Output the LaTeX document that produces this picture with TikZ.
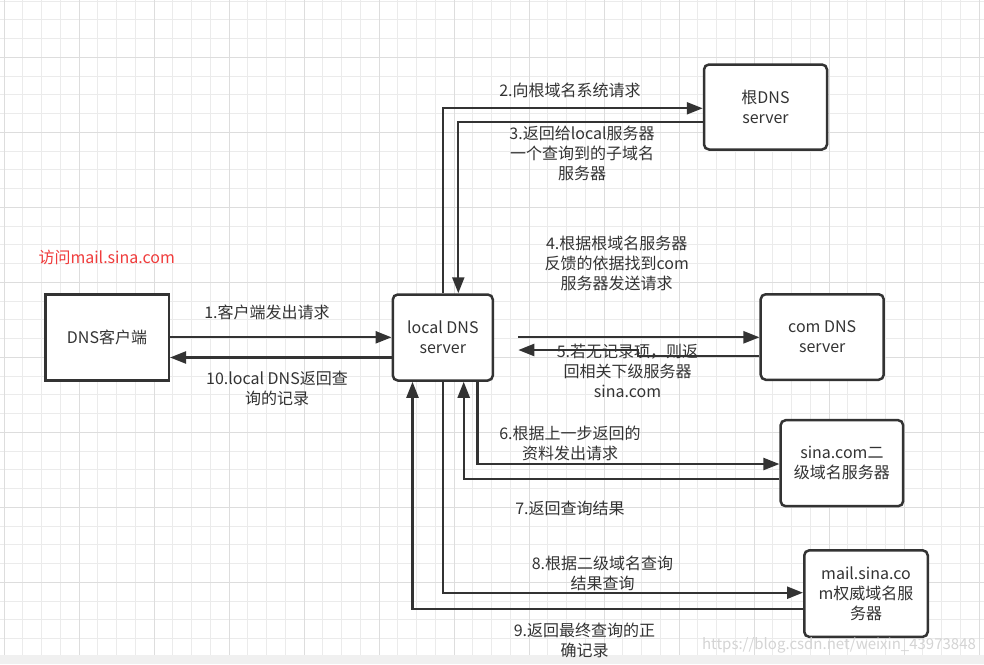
\documentclass[tikz,border=0pt]{standalone}
\usepackage{fontspec}
\setmainfont{Noto Sans CJK SC}
\usetikzlibrary{arrows.meta}
\definecolor{lc}{HTML}{333333}
\definecolor{gmin}{HTML}{EBEBEB}
\definecolor{gmaj}{HTML}{DDDDDD}
\definecolor{stripc}{HTML}{F0F0F0}
\definecolor{redt}{HTML}{F03C3C}
\definecolor{wm}{HTML}{D4D4D4}
\begin{document}
\begin{tikzpicture}[x=1pt,y=-1pt,
  box/.style={draw=lc, line width=2.5pt, rounded corners=5pt, fill=white, align=center, text=lc, font=\fontsize{16}{20}\selectfont, inner sep=0pt},
  lab/.style={align=center, text=lc, font=\fontsize{16}{20}\selectfont, inner sep=0pt},
  arr/.style={draw=lc, line width=2.3pt, -{Triangle[length=16pt,width=12pt]}},
  conn/.style={draw=lc, line width=2.3pt}]
\useasboundingbox (0,0) rectangle (984,664);
\fill[white] (0,0) rectangle (984,664);
\fill[stripc] (0,655) rectangle (984,664);
% grid
\foreach \i in {0,...,52} { \pgfmathsetmacro\xx{4+18.75*\i} \draw[gmin, line width=1pt] (\xx,0) -- (\xx,655); }
\foreach \j in {0,...,34} { \pgfmathsetmacro\yy{1.05+18.75*\j} \draw[gmin, line width=1pt] (0,\yy) -- (984,\yy); }
\foreach \i in {0,...,13} { \pgfmathsetmacro\xx{4+75*\i} \draw[gmaj, line width=1pt] (\xx,0) -- (\xx,655); }
\foreach \j in {0,...,7} { \pgfmathsetmacro\yy{57.3+75*\j} \draw[gmaj, line width=1pt] (0,\yy) -- (984,\yy); }

% boxes
\node[box, minimum width=123pt, minimum height=85pt] (root) at (765.5,107) {根DNS\\server};
\node[box, rounded corners=0pt, minimum width=123.5pt, minimum height=86pt] (client) at (107,337.5) {DNS客户端};
\node[box, minimum width=100pt, minimum height=86pt] (local) at (442.8,337.5) {local DNS\\server};
\node[box, minimum width=123pt, minimum height=85.5pt] (com) at (822.2,337) {com DNS\\server};
\node[box, minimum width=122.5pt, minimum height=86pt] (sina) at (841.9,463.2) {sina.com二\\级域名服务器};
\node[box, minimum width=123.5pt, minimum height=86.5pt] (mail) at (866,593.6) {mail.sina.co\\m权威域名服\\务器};

% free ends
\coordinate (a4s) at (518.3,337.3);
\coordinate (a5e) at (518.3,350);

% connectors
\draw[arr] (client.east |- 0,337.3) -- (local.west |- 0,337.3);
\draw[arr] (local.west |- 0,357.5) -- (client.east |- 0,357.5);
\draw[arr] (443.3,0 |- local.north) |- (root.west |- 0,108.3);
\draw[arr] (root.west |- 0,122.3) -| (458.3,0 |- local.north);
\draw[arr] (a4s) -- (com.west |- a4s);
\draw[arr] (com.west |- 0,356) -- (638,356) -- (638,350) -- (a5e);
\draw[arr] (477.5,0 |- local.south) |- (sina.west |- 0,464);
\draw[arr] (sina.west |- 0,479) -| (463.7,0 |- local.south);
\draw[arr] (443,0 |- local.south) |- (mail.west |- 0,592.7);
\draw[arr] (mail.west |- 0,609) -| (412.5,0 |- local.south);

% labels
\node[lab, text=redt] (title) at (106.7,257.3) {访问mail.sina.com};
\node[lab] (l1) at (267,312.7) {1.客户端发出请求};
\node[lab] (l2) at (570,90.7) {2.向根域名系统请求};
\node[lab] (l3) at (582,153) {3.返回给local服务器\\一个查询到的子域名\\服务器};
\node[lab] (l4) at (616.7,263.5) {4.根据根域名服务器\\反馈的依据找到com\\服务器发送请求};
\node[lab] (l5) at (627.5,370.5) {5.若无记录项，则返\\回相关下级服务器\\sina.com};
\node[lab] (l6) at (570,443.3) {6.根据上一步返回的\\资料发出请求};
\node[lab] (l7) at (570,508.3) {7.返回查询结果};
\node[lab] (l8) at (602.5,573.8) {8.根据二级域名查询\\结果查询};
\node[lab] (l9) at (584.5,640.3) {9.返回最终查询的正\\确记录};
\node[lab] (l10) at (277,388) {10.local DNS返回查\\询的记录};
\node[lab, text=wm, font=\fontsize{15}{15}\selectfont] (wmark) at (839,645) {https://blog.csdn.net/weixin\_43973848};
\end{tikzpicture}
\end{document}
